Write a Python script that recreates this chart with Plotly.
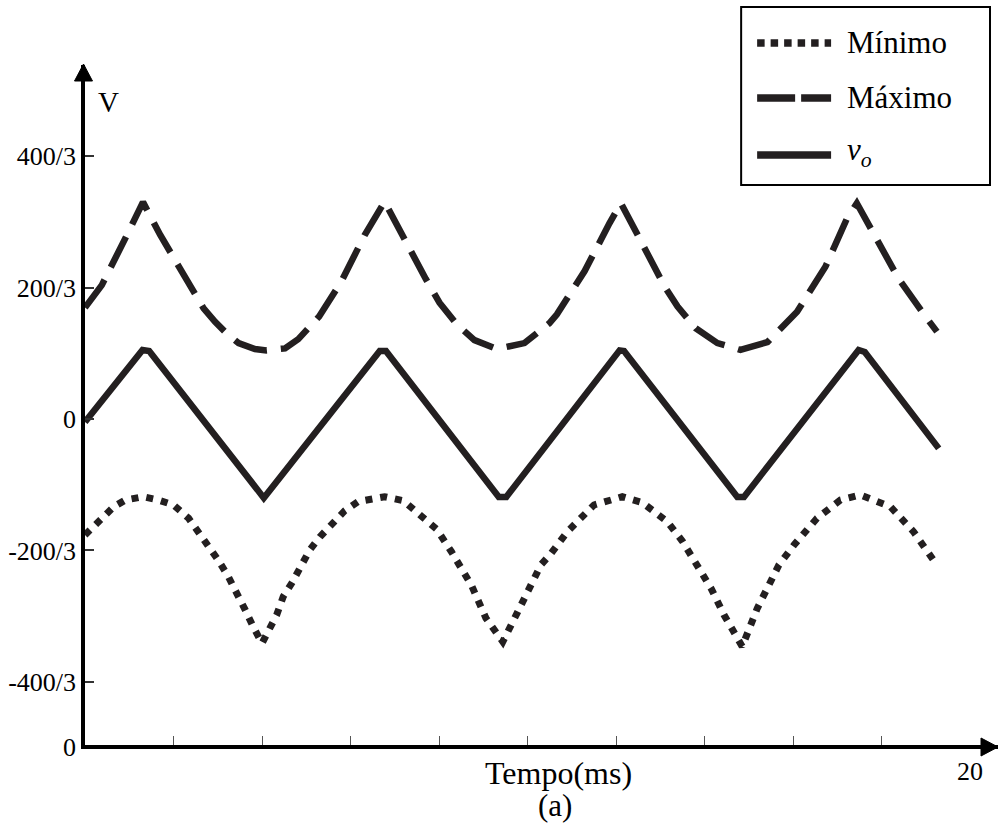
import plotly.graph_objects as go

# ---- data (time in ms, voltage in V) ----
t_vo = [0.00, 1.30, 1.45, 4.04, 6.66, 6.80, 9.35, 9.52, 12.08, 12.18, 14.74, 14.89, 17.48, 17.62, 19.29]
v_vo = [-1.5, 35.0, 34.5, -40.0, 34.5, 34.5, -39.5, -39.5, 34.8, 34.5, -39.5, -39.5, 35.0, 34.0, -14.9]

t_max = [0.00, 0.38, 0.91, 1.31, 1.70, 2.07, 2.49, 2.68, 2.94, 3.20, 3.47, 3.84, 4.10, 4.52, 4.82, 5.29,
         5.79, 6.32, 6.77, 7.10, 7.37, 7.70, 8.01, 8.40, 8.80, 9.30, 9.93, 10.49, 10.66, 11.29, 11.85,
         12.11, 12.45, 12.78, 13.10, 13.39, 13.80, 14.29, 14.81, 15.42, 16.09, 16.73, 17.22, 17.44,
         17.86, 18.38, 19.02, 19.25]
v_max = [56.5, 67.9, 91.6, 110.0, 93.3, 78.9, 62.5, 56.1, 49.3, 43.4, 38.5, 35.5, 34.8, 35.8, 40.5, 52.0,
         69.6, 93.3, 110.2, 96.0, 84.0, 71.0, 59.0, 48.0, 40.0, 35.5, 38.5, 48.5, 53.0, 75.0, 99.2,
         109.4, 95.0, 80.0, 67.0, 57.0, 46.0, 38.5, 35.0, 39.0, 54.4, 77.2, 101.8, 109.4,
         93.0, 71.3, 51.1, 44.3]

t_min = [0.00, 0.35, 0.65, 0.91, 1.31, 1.66, 2.00, 2.34, 2.56, 2.79, 3.01, 3.24, 3.43, 3.62, 3.80, 4.00,
         4.33, 4.48, 4.67, 4.86, 5.08, 5.31, 5.57, 5.87, 6.17, 6.77, 7.20, 7.60, 7.95, 8.28, 8.73, 9.06,
         9.44, 9.78, 10.05, 10.30, 10.52, 10.90, 11.50, 12.14, 12.60, 13.16, 13.50, 13.83, 14.15,
         14.44, 14.85, 15.19, 15.45, 15.68, 16.02, 16.54, 17.07, 17.52, 18.20, 18.72, 19.25]
v_min = [-58.8, -51.2, -44.5, -41.1, -39.4, -41.1, -43.6, -50.3, -57.1, -63.9, -71.5, -80.0, -87.6, -96.8,
         -105.3, -113.7, -99.4, -90.0, -83.3, -74.9, -66.4, -59.7, -53.7, -46.5, -41.9, -39.4, -41.5,
         -48.7, -56.0, -67.3, -84.2, -101.0, -112.9, -97.7, -85.0, -74.0, -68.5, -57.1, -43.6, -39.4,
         -42.5, -52.1, -62.0, -74.0, -86.0, -99.4, -115.4, -96.0, -85.0, -74.0, -63.9, -50.3, -41.1,
         -38.5, -44.5, -57.1, -74.0]

y_tick_vals = [-400 / 3, -200 / 3, 0, 200 / 3, 400 / 3]
y_tick_text = ["-400/3", "-200/3", "0", "200/3", "400/3"]
x_minor_ticks = [2, 4, 6, 8, 10, 12, 14, 16, 18]
x_end_label = 20

legend_names = ["Mínimo", "Máximo", "<i>v</i><sub><i>o</i></sub>"]

# ---- styling ----
INK = "#231f20"
SERIF = "Liberation Serif, Times New Roman, serif"
W, H = 998, 829
ML, MR, MT, MB = 84.5, 0, 65, 84
X_RANGE = [0, 20.63]
Y_RANGE = [-165.3, 179.5]


def px(x):
    return (x - ML) / (W - ML - MR)


def py(y):
    return (H - MB - y) / (H - MT - MB)


def label(x, y, text, size, xanchor="center"):
    return dict(x=px(x), y=py(y), xref="paper", yref="paper", text=text, showarrow=False,
                xanchor=xanchor, yanchor="middle", font=dict(family=SERIF, size=size, color="#000"))


def triangle(points):
    path = "M " + " L ".join(f"{px(a):.5f},{py(b):.5f}" for a, b in points) + " Z"
    return dict(type="path", xref="paper", yref="paper", path=path,
                fillcolor="#000", line=dict(color="#000", width=1), layer="above")


fig = go.Figure()
fig.add_trace(go.Scatter(x=t_min, y=v_min, mode="lines", name="Mínimo",
                         line=dict(color=INK, width=7, dash="7px,8px")))
fig.add_trace(go.Scatter(x=t_max, y=v_max, mode="lines", name="Máximo",
                         line=dict(color=INK, width=6.5, dash="34px,14px")))
fig.add_trace(go.Scatter(x=t_vo, y=v_vo, mode="lines", name="vo",
                         line=dict(color=INK, width=6.5)))

annotations = [
    label(108, 102, "V", 29),
    label(77, 747, "0", 26, xanchor="right"),
    label(558, 773, "Tempo(ms)", 32),
    label(555, 806, "(a)", 31),
]

shapes = [
    # arrow heads at the ends of the two axes
    triangle([(998, 747), (981, 738), (981, 756)]),
    triangle([(83, 64), (74, 81), (92, 81)]),
    # legend panel
    dict(type="rect", xref="paper", yref="paper", x0=px(741), x1=px(990), y0=py(185), y1=py(7),
         line=dict(color="#000", width=2), fillcolor="white", layer="above"),
]
legend_rows = [43, 98, 155]
legend_text_rows = [43, 97, 152]
legend_styles = [dict(width=7.5, dash="7.5px,6px"), dict(width=7.5, dash="38px,6px"), dict(width=7.5, dash="solid")]
for name, row, trow, st in zip(legend_names, legend_rows, legend_text_rows, legend_styles):
    shapes.append(dict(type="line", xref="paper", yref="paper", x0=px(757), x1=px(831), y0=py(row), y1=py(row),
                       line=dict(color=INK, width=st["width"], dash=st["dash"]), layer="above"))
    annotations.append(label(845, trow, name, 31, xanchor="left"))

fig.update_layout(
    width=W, height=H,
    margin=dict(l=ML, r=MR, t=MT, b=MB),
    paper_bgcolor="white", plot_bgcolor="white",
    showlegend=False,
    shapes=shapes,
    annotations=annotations,
    xaxis=dict(range=X_RANGE, showgrid=False, zeroline=False,
               showline=True, linewidth=3.5, linecolor="#000",
               tickmode="array", tickvals=[x_end_label], ticktext=[str(x_end_label)], ticks="",
               ticklabelstandoff=0, tickfont=dict(family=SERIF, size=26, color="#000"),
               minor=dict(tickmode="array", tickvals=x_minor_ticks, ticks="inside", ticklen=9,
                          tickwidth=1.3, tickcolor="#555", showgrid=False)),
    yaxis=dict(range=Y_RANGE, showgrid=False, zeroline=False,
               showline=True, linewidth=3.5, linecolor="#000",
               tickmode="array", tickvals=y_tick_vals, ticktext=y_tick_text, ticks="inside",
               ticklen=9, tickwidth=1.5, tickcolor="#333",
               tickfont=dict(family=SERIF, size=26, color="#000")),
)

fig.write_html("out.html")
